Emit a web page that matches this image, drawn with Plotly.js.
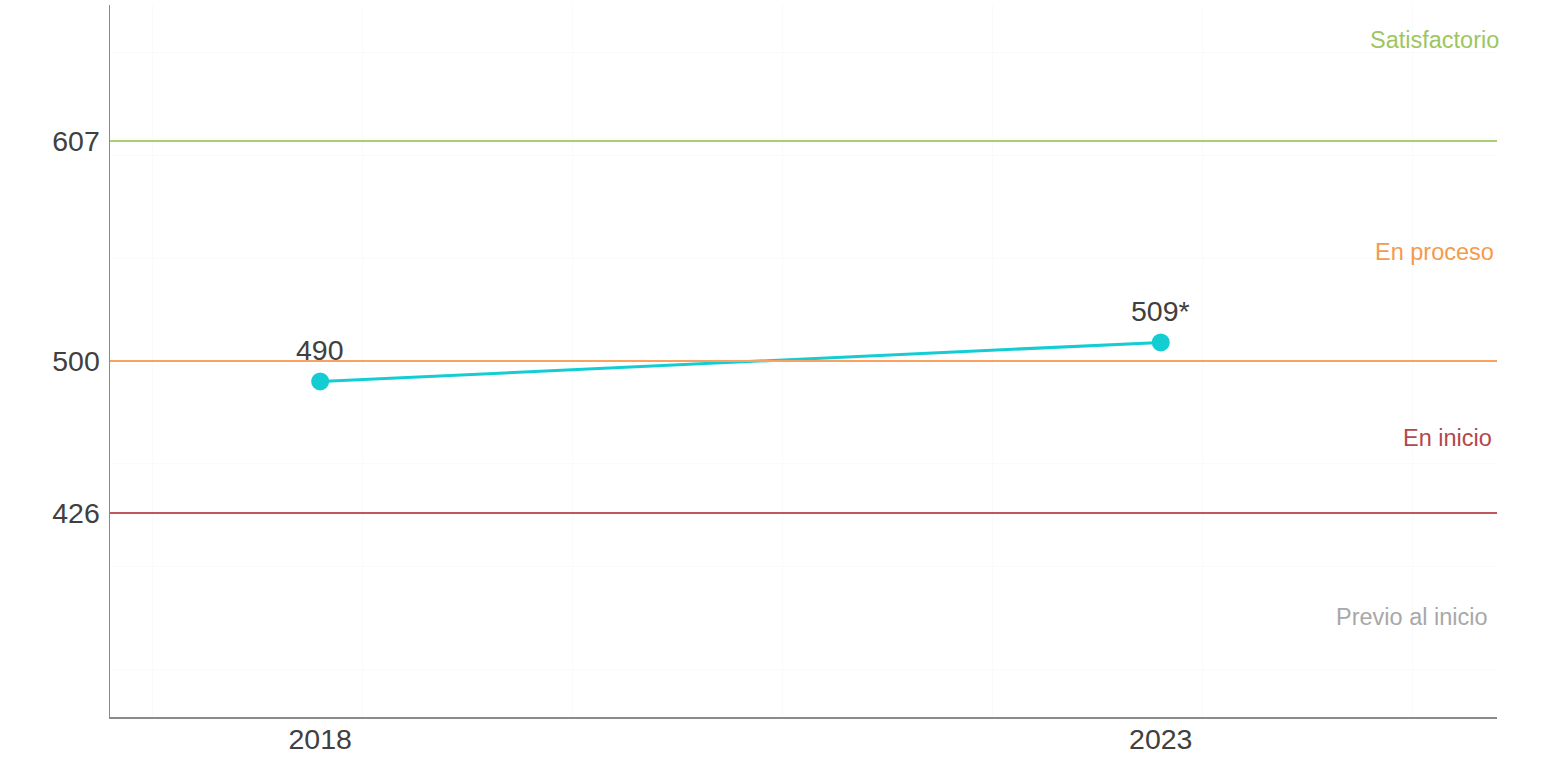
<!DOCTYPE html>
<html>
<head>
<meta charset="utf-8">
<script src="https://cdn.plot.ly/plotly-3.0.1.min.js"></script>
<style>html,body{margin:0;padding:0;background:#fff;}#chart{width:1567px;height:771px;}</style>
</head>
<body>
<div id="chart"></div>
<script>
// Data
const years = [2018, 2023];
const scores = [490, 509];
const scoreLabels = ["490", "509*"];
const levelCuts = [607, 500, 426];
const levelCutColors = ["#a9cf74", "#f8a160", "#c0575a"];
const levelNames = ["Satisfactorio", "En proceso", "En inicio", "Previo al inicio"];
const levelNameY = [656, 553, 462.5, 375.5];
const levelNameX = [0.9547, 0.9547, 0.964, 0.939];
const levelNameColors = ["#9cc65f", "#f59a4d", "#b4474b", "#a8a8a8"];

const font = "Liberation Sans, Arial, sans-serif";

const traces = [{
  x: years, y: scores,
  type: "scatter", mode: "lines+markers",
  line: {color: "#14cdd3", width: 3},
  marker: {color: "#14cdd3", size: 18},
  cliponaxis: false, hoverinfo: "skip", showlegend: false
}];

const shapes = levelCuts.map((v, i) => ({
  type: "line", xref: "paper", x0: 0, x1: 1, yref: "y", y0: v, y1: v,
  line: {color: levelCutColors[i], width: 2}, layer: "above"
}));

const levelAnnotations = levelNames.map((t, i) => ({
  text: t, xref: "paper", x: levelNameX[i], yref: "y", y: levelNameY[i],
  xanchor: "center", yanchor: "middle", showarrow: false,
  font: {family: font, size: 23.5, color: levelNameColors[i]}
}));

const valueAnnotations = years.map((yr, i) => ({
  text: scoreLabels[i], xref: "x", x: yr, yref: "y", y: scores[i],
  xanchor: "center", yanchor: "bottom", yshift: 13, showarrow: false,
  font: {family: font, size: 28.5, color: "#404040"}
}));

const layout = {
  width: 1567, height: 771,
  margin: {l: 110, r: 70, t: 5, b: 54},
  paper_bgcolor: "#ffffff", plot_bgcolor: "#ffffff",
  font: {family: font, color: "#404040"},
  showlegend: false,
  xaxis: {
    range: [2016.75, 2025], tickvals: years, ticktext: years.map(String),
    showgrid: false, zeroline: false, showline: true, linecolor: "#8a8a8a", linewidth: 1.5,
    ticks: "", ticklabelstandoff: -4, tickfont: {family: font, size: 28.5, color: "#404040"},
    minor: {tickmode: "linear", tick0: 2017, dtick: 1.25, showgrid: true, gridcolor: "#fafafa", gridwidth: 1, ticks: ""}
  },
  yaxis: {
    range: [326.7, 673.2], tickvals: levelCuts, ticktext: levelCuts.map(String),
    showgrid: false, zeroline: false, showline: true, linecolor: "#8a8a8a", linewidth: 1.5,
    ticks: "", ticklabelstandoff: 3, tickfont: {family: font, size: 28.5, color: "#404040"},
    minor: {tickmode: "linear", tick0: 0, dtick: 50, showgrid: true, gridcolor: "#fafafa", gridwidth: 1, ticks: ""}
  },
  shapes: shapes,
  annotations: levelAnnotations.concat(valueAnnotations)
};

Plotly.newPlot("chart", traces, layout, {displayModeBar: false, staticPlot: true});
</script>
</body>
</html>
